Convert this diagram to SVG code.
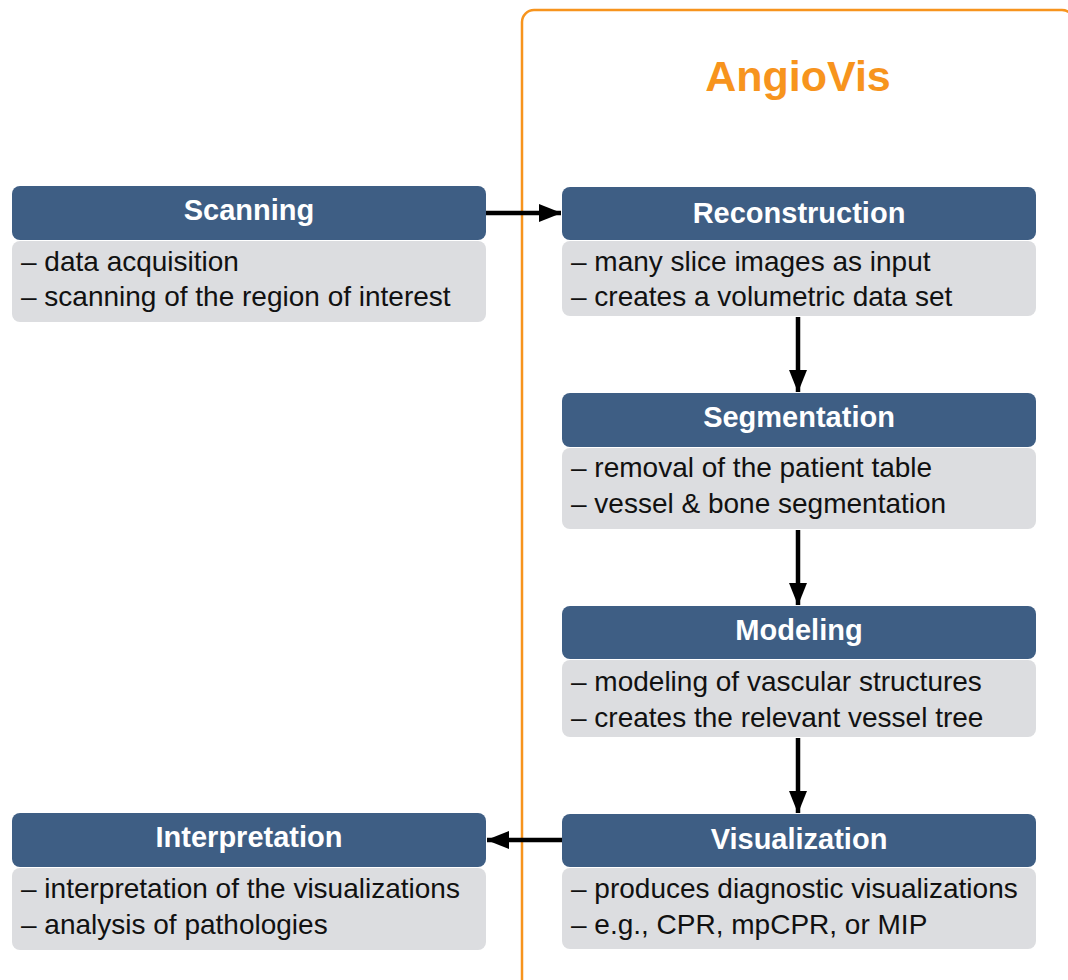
<svg xmlns="http://www.w3.org/2000/svg" width="1068" height="980" viewBox="0 0 1068 980">
<defs>
<style>
.hd{fill:#3e5e84}
.bd{fill:#dcdde0}
.ht{font-family:"Liberation Sans",Arial,sans-serif;font-weight:bold;font-size:29px;fill:#ffffff;text-anchor:middle}
.bt{font-family:"Liberation Sans",Arial,sans-serif;font-size:28px;fill:#111111}
.cn{stroke:#000000;stroke-width:4.5;fill:none;marker-end:url(#ah)}
</style>
<marker id="ah" markerWidth="5" markerHeight="4" refX="4.9" refY="2" orient="auto" markerUnits="strokeWidth">
<path d="M0,0 L5,2 L0,4 Z" fill="#000000"/>
</marker>
</defs>
<rect width="1068" height="980" fill="#ffffff"/>
<g id="angiovis">
<rect x="522" y="10" width="552" height="1000" rx="12" ry="12" fill="none" stroke="#f7941d" stroke-width="2.5"/>
<text x="798" y="91" font-family="'Liberation Sans',Arial,sans-serif" font-weight="bold" font-size="43" fill="#f7941d" text-anchor="middle">AngioVis</text>
</g>
<g id="connectors">
<line class="cn" x1="486" y1="213" x2="561" y2="213"/>
<line class="cn" x1="798" y1="317" x2="798" y2="392"/>
<line class="cn" x1="798" y1="530" x2="798" y2="605"/>
<line class="cn" x1="798" y1="738" x2="798" y2="813"/>
<line class="cn" x1="562" y1="840" x2="487" y2="840"/>
</g>
<g id="scanning">
<rect class="hd" x="12" y="186" width="474" height="54" rx="8"/>
<rect class="bd" x="12" y="241" width="474" height="81" rx="8"/>
<text class="ht" x="249" y="220">Scanning</text>
<text class="bt" x="21" y="271">– data acquisition</text>
<text class="bt" x="21" y="306">– scanning of the region of interest</text>
</g>
<g id="reconstruction">
<rect class="hd" x="562" y="187" width="474" height="53" rx="8"/>
<rect class="bd" x="562" y="241" width="474" height="75" rx="8"/>
<text class="ht" x="799" y="223">Reconstruction</text>
<text class="bt" x="571" y="271">– many slice images as input</text>
<text class="bt" x="571" y="306">– creates a volumetric data set</text>
</g>
<g id="segmentation">
<rect class="hd" x="562" y="393" width="474" height="54" rx="8"/>
<rect class="bd" x="562" y="448" width="474" height="81" rx="8"/>
<text class="ht" x="799" y="427">Segmentation</text>
<text class="bt" x="571" y="477">– removal of the patient table</text>
<text class="bt" x="571" y="513">– vessel &amp; bone segmentation</text>
</g>
<g id="modeling">
<rect class="hd" x="562" y="606" width="474" height="53" rx="8"/>
<rect class="bd" x="562" y="660" width="474" height="77" rx="8"/>
<text class="ht" x="799" y="640">Modeling</text>
<text class="bt" x="571" y="691">– modeling of vascular structures</text>
<text class="bt" x="571" y="727">– creates the relevant vessel tree</text>
</g>
<g id="visualization">
<rect class="hd" x="562" y="814" width="474" height="53" rx="8"/>
<rect class="bd" x="562" y="868" width="474" height="81" rx="8"/>
<text class="ht" x="799" y="849">Visualization</text>
<text class="bt" x="571" y="898">– produces diagnostic visualizations</text>
<text class="bt" x="571" y="934">– e.g., CPR, mpCPR, or MIP</text>
</g>
<g id="interpretation">
<rect class="hd" x="12" y="813" width="474" height="54" rx="8"/>
<rect class="bd" x="12" y="868" width="474" height="82" rx="8"/>
<text class="ht" x="249" y="847">Interpretation</text>
<text class="bt" x="21" y="898">– interpretation of the visualizations</text>
<text class="bt" x="21" y="934">– analysis of pathologies</text>
</g>
</svg>
